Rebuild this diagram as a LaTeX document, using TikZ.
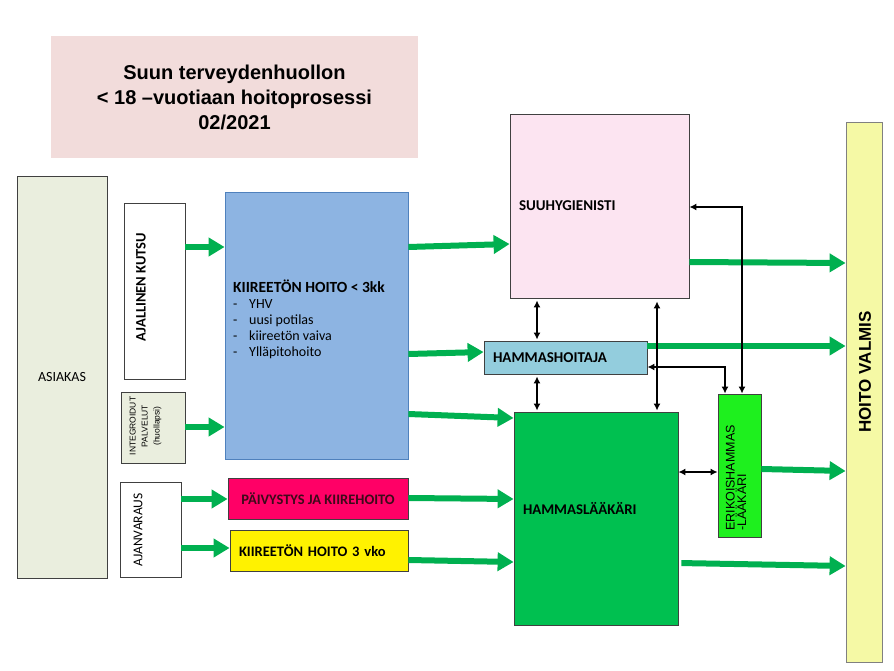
\documentclass[tikz,border=0pt]{standalone}
\usepackage{fontspec}
\setmainfont{Carlito}
\newfontfamily\arialfont{Liberation Sans}
\usetikzlibrary{arrows.meta}

\definecolor{titlepink}{HTML}{F2DCDB}
\definecolor{clientgray}{HTML}{EAEEDE}
\definecolor{frameline}{HTML}{404040}
\definecolor{kiirblue}{HTML}{8DB4E2}
\definecolor{kiirline}{HTML}{4F81BD}
\definecolor{urgentred}{HTML}{FF0066}
\definecolor{urgenttext}{HTML}{3D0A1A}
\definecolor{hygpink}{HTML}{FCE4F1}
\definecolor{nurseblue}{HTML}{93CDDD}
\definecolor{dentgreen}{HTML}{00C050}
\definecolor{specgreen}{HTML}{1EF01E}
\definecolor{donelime}{HTML}{F5F9A5}
\definecolor{flowgreen}{HTML}{00B050}

\begin{document}
\begin{tikzpicture}[x=1pt,y=-1pt]
	\tikzstyle{box}=[draw=frameline,line width=0.8pt,inner sep=0pt]
	\tikzstyle{txtbox}=[box,align=left,inner xsep=9pt]
	\tikzstyle{rotlabel}=[rotate=90,inner sep=0pt]
	\tikzstyle{garrow}=[draw=flowgreen,line width=6pt,-{Triangle[length=16pt,width=18pt]}]
	\tikzstyle{barrow}=[draw=black,line width=1.6pt,{Latex[length=7pt,width=7pt]}-{Latex[length=7pt,width=7pt]}]
	\useasboundingbox (0,0) rectangle (894,671);

	% otsikko
	\node[fill=titlepink,minimum width=367pt,minimum height=122pt,align=center,
		font=\arialfont\bfseries\fontsize{20}{25}\selectfont] (title) at (234.5,97)
		{Suun terveydenhuollon\\< 18 –vuotiaan hoitoprosessi\\02/2021};

	% vasen reuna
	\node[box,fill=clientgray,minimum width=90pt,minimum height=402pt,font=\fontsize{14}{16}\selectfont] (asiakas) at (62,377) {ASIAKAS};
	\node[box,fill=white,minimum width=61pt,minimum height=176pt] (ajkutsu) at (154.5,291) {};
	\node[rotlabel,font=\bfseries\fontsize{14.5}{16}\selectfont] (ajkutsu-t) at (141,287) {AJALLINEN KUTSU};
	\node[box,fill=clientgray,minimum width=64pt,minimum height=71pt] (integr) at (153,427.5) {};
	\node[rotlabel,align=center,font=\arialfont\fontsize{8.5}{12}\selectfont] (integr-t) at (145.5,426)
		{INTEGROIDUT\\PALVELUT\\(huollapsi)};
	\node[box,fill=white,minimum width=61pt,minimum height=95pt] (ajanvar) at (150.5,529.5) {};
	\node[rotlabel,font=\fontsize{13.5}{16}\selectfont] (ajanvar-t) at (138,530) {AJANVARAUS};

	% hoidon tarve
	\node[box,draw=kiirline,fill=kiirblue,minimum width=183pt,minimum height=267pt] (kiir3kk) at (316.5,325.5) {};
	\node[anchor=west,align=left,inner sep=0pt,font=\fontsize{14}{16}\selectfont] (kiir3kk-t) at (233,319)
		{{\bfseries\fontsize{15.5}{18}\selectfont KIIREETÖN HOITO < 3kk}\\
		\makebox[16pt][l]{-}YHV\\
		\makebox[16pt][l]{-}uusi potilas\\
		\makebox[16pt][l]{-}kiireetön vaiva\\
		\makebox[16pt][l]{-}Ylläpitohoito};
	\node[box,fill=urgentred,text=urgenttext,minimum width=180pt,minimum height=41pt,
		font=\bfseries\fontsize{14.5}{16}\selectfont] (paiv) at (318,498.5) {PÄIVYSTYS JA KIIREHOITO};
	\node[txtbox,fill=yellow,text width=160pt,minimum height=41pt,
		font=\bfseries\fontsize{14.5}{16}\selectfont] (kiir3vko) at (319,550.5) {KIIREETÖN HOITO 3 vko};

	% hoitajat
	\node[txtbox,fill=hygpink,text width=161pt,minimum height=184pt,
		font=\bfseries\fontsize{15}{18}\selectfont] (suuhyg) at (599.5,206) {SUUHYGIENISTI};
	\node[txtbox,fill=nurseblue,text width=145pt,minimum height=33pt,
		font=\bfseries\fontsize{15}{18}\selectfont] (hshoit) at (565.5,357.5) {HAMMASHOITAJA};
	\node[txtbox,fill=dentgreen,text width=146pt,minimum height=213pt,
		font=\bfseries\fontsize{14.8}{18}\selectfont] (hlaak) at (596,518.5) {HAMMASLÄÄKÄRI\\[2pt]\mbox{}};
	\node[box,fill=specgreen,minimum width=43pt,minimum height=143pt] (erik) at (739.5,465.5) {};
	\node[rotlabel,align=left,font=\arialfont\fontsize{12.5}{11.5}\selectfont] (erik-t) at (736,478)
		{ERIKOISHAMMAS\\-LÄÄKÄRI};

	% valmis
	\node[box,draw=gray,fill=donelime,minimum width=36pt,minimum height=540pt] (valmis) at (864,392) {};
	\node[rotlabel,font=\arialfont\bfseries\fontsize{17}{20}\selectfont] (valmis-t) at (865,372) {HOITO VALMIS};

	% vihreat nuolet
	\draw[garrow] (ajkutsu.east |- 0,247) -- (kiir3kk.west |- 0,247);
	\draw[garrow] (integr.east |- 0,427) -- (kiir3kk.west |- 0,427);
	\draw[garrow] (ajanvar.east |- 0,499) -- (paiv.west |- 0,499);
	\draw[garrow] (ajanvar.east |- 0,548) -- (kiir3vko.west |- 0,548);
	\draw[garrow] (kiir3kk.east |- 0,247) -- (suuhyg.west |- 0,244);
	\draw[garrow] (kiir3kk.east |- 0,354) -- (hshoit.west |- 0,352);
	\draw[garrow] (kiir3kk.east |- 0,414) -- (hlaak.west |- 0,418);
	\draw[garrow] (paiv.east |- 0,498) -- (hlaak.west |- 0,499);
	\draw[garrow] (kiir3vko.east |- 0,560) -- (hlaak.west |- 0,562);
	\draw[garrow] (suuhyg.east |- 0,262) -- (valmis.west |- 0,263);
	\draw[garrow] (hshoit.east |- 0,346) -- (valmis.west |- 0,346);
	\draw[garrow] (erik.east |- 0,469) -- (valmis.west |- 0,471);
	\draw[garrow,shorten <=3pt] (hlaak.east |- 0,563) -- (valmis.west |- 0,566);

	% mustat nuolet
	\draw[barrow,shorten <=2pt,shorten >=1pt] (537,0 |- suuhyg.south) -- (537,0 |- hshoit.north);
	\draw[barrow,shorten <=2pt,shorten >=1pt] (537,0 |- hshoit.south) -- (537,0 |- hlaak.north);
	\draw[barrow,shorten <=3pt,shorten >=1pt] (657,0 |- suuhyg.south) -- (657,0 |- hlaak.north);
	\draw[barrow] (742,0 |- erik.north) |- (suuhyg.east |- 0,207);
	\draw[barrow] (hshoit.east |- 0,367) -| (725,0 |- erik.north);
	\draw[barrow] (hlaak.east |- 0,472) -- (erik.west |- 0,472);
\end{tikzpicture}
\end{document}
